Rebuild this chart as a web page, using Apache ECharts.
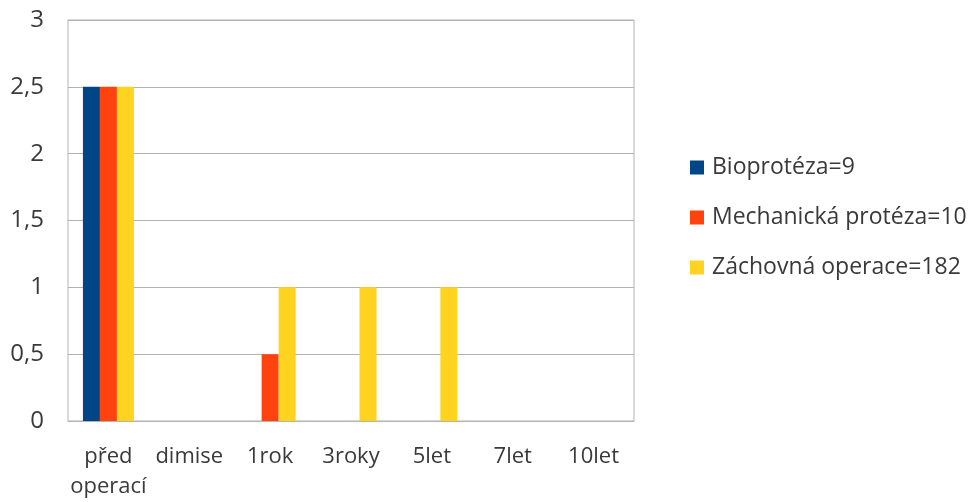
<!DOCTYPE html>
<html>
<head>
<meta charset="utf-8">
<script src="https://cdn.jsdelivr.net/npm/echarts@6/dist/echarts.min.js"></script>
<style>
  html, body { margin: 0; padding: 0; background: #fff; }
  #chart { width: 974px; height: 502px; }
</style>
</head>
<body>
<div id="chart"></div>
<script>
// data
var categories = ['před\noperací', 'dimise', '1rok', '3roky', '5let', '7let', '10let']
var seriesNames = ['Bioprotéza=9', 'Mechanická protéza=10', 'Záchovná operace=182']
var bioproteza = [2.5, 0, 0, 0, 0, 0, 0]
var mechanicka = [2.5, 0, 0.5, 0, 0, 0, 0]
var zachovna = [2.5, 0, 1, 1, 1, 0, 0]
var colors = ['#004586', '#ff420e', '#ffd320']

var textColor = '#3a3a3a'
var fontFamily = '"Open Sans", "Noto Sans", sans-serif'

var chart = echarts.init(document.getElementById('chart'))

function barSeries(name, data, color) {
  return {
    name: name,
    type: 'bar',
    data: data,
    barWidth: 17,
    barGap: '0%',
    itemStyle: { color: color },
    animation: false
  }
}

chart.setOption({
  backgroundColor: '#fff',
  textStyle: { fontFamily: fontFamily },
  grid: {
    left: 68,
    right: 340,
    top: 20,
    bottom: 80,
    show: true,
    borderColor: '#b3b3b3',
    borderWidth: 1
  },
  legend: {
    orient: 'vertical',
    left: 690,
    top: 156,
    padding: 0,
    itemWidth: 14,
    itemHeight: 14,
    itemGap: 27,
    icon: 'rect',
    data: seriesNames,
    textStyle: {
      fontSize: 23,
      lineHeight: 23,
      color: textColor,
      fontFamily: fontFamily,
      padding: [0, 0, 0, 3]
    }
  },
  xAxis: {
    type: 'category',
    data: categories,
    axisTick: { show: false },
    axisLine: { lineStyle: { color: '#b3b3b3' } },
    axisLabel: {
      fontSize: 22,
      lineHeight: 30,
      color: textColor,
      margin: 21,
      interval: 0
    }
  },
  yAxis: {
    type: 'value',
    min: 0,
    max: 3,
    interval: 0.5,
    axisLine: { show: false },
    axisTick: { show: false },
    splitLine: { lineStyle: { color: '#b3b3b3' } },
    axisLabel: {
      fontSize: 24,
      color: textColor,
      margin: 24,
      formatter: function (v) { return String(v).replace('.', ',') }
    }
  },
  series: [
    barSeries(seriesNames[0], bioproteza, colors[0]),
    barSeries(seriesNames[1], mechanicka, colors[1]),
    barSeries(seriesNames[2], zachovna, colors[2])
  ]
})
</script>
</body>
</html>
